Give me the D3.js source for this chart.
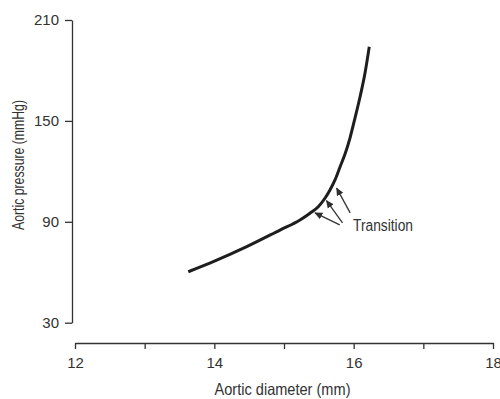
<!DOCTYPE html>
<html>
<head>
<meta charset="utf-8">
<script src="https://cdn.jsdelivr.net/npm/d3@7"></script>
<style>
  body { margin: 0; background: #fff; }
  svg { display: block; }
  text { font-family: "Liberation Sans", Arial, sans-serif; }
</style>
</head>
<body>
<div id="chart"></div>
<script>
// curve: aortic diameter (mm) vs aortic pressure (mmHg)
const diameter = [13.626, 13.985, 14.465, 14.943, 15.230, 15.373, 15.492, 15.588, 15.660,
                  15.732, 15.804, 15.876, 15.947, 16.019, 16.091, 16.163, 16.224];
const pressure = [60.3, 66.3, 75.2, 85.1, 91.1, 95.1, 99.0, 104.0, 108.9,
                  114.9, 122.6, 130.3, 139.8, 151.7, 164.2, 178.5, 194.1];

const xTicks = [12, 13, 14, 15, 16, 17, 18];
const xLabels = [12, 14, 16, 18];
const yTicks = [30, 90, 150, 210];

// "Transition" arrows, tail -> tip, in data units
const arrowTail = [[15.80, 88.2], [15.84, 89.4], [15.95, 95.3]];
const arrowTip = [[15.445, 95.3], [15.61, 102.6], [15.756, 110.0]];
const noteText = "Transition";
const notePos = [15.99, 84.5];

const width = 500, height = 399;

const x = d3.scaleLinear().domain([12, 18]).range([75, 493]);
const y = d3.scaleLinear().domain([30, 210]).range([322.7, 20]);

const svg = d3.select("#chart").append("svg")
    .attr("width", width)
    .attr("height", height);

svg.append("defs").append("marker")
    .attr("id", "head")
    .attr("viewBox", "0 0 10 10")
    .attr("refX", 9).attr("refY", 5)
    .attr("markerWidth", 8).attr("markerHeight", 8)
    .attr("markerUnits", "userSpaceOnUse")
    .attr("orient", "auto")
    .append("path")
    .attr("d", "M0,0.5L10,5L0,9.5z")
    .attr("fill", "#2e2e2e");

// y axis, set slightly left of the x axis start
const yAxis = svg.append("g")
    .attr("transform", "translate(72,0)")
    .call(d3.axisLeft(y).tickValues(yTicks).tickSize(7).tickPadding(6).tickSizeOuter(0));

// x axis, dropped below the lowest y tick
const xAxis = svg.append("g")
    .attr("transform", "translate(0,343)")
    .call(d3.axisBottom(x).tickValues(xTicks).tickSize(6).tickPadding(8).tickSizeOuter(0)
        .tickFormat(d => xLabels.includes(d) ? d : ""));

[yAxis, xAxis].forEach(g => {
    g.attr("font-family", null).attr("font-size", null);
    g.select(".domain").attr("stroke", "#333").attr("stroke-width", 1.3);
    g.selectAll(".tick line").attr("stroke", "#333").attr("stroke-width", 1.3);
    g.selectAll(".tick text").attr("fill", "#333").style("font-size", "15px");
});

// narrow titles: squeeze to the measured widths
svg.append("text")
    .attr("x", 282.5).attr("y", 395)
    .attr("text-anchor", "middle")
    .attr("fill", "#333")
    .attr("textLength", 136)
    .attr("lengthAdjust", "spacingAndGlyphs")
    .style("font-size", "16.5px")
    .text("Aortic diameter (mm)");

svg.append("text")
    .attr("transform", "translate(23.5,165) rotate(-90)")
    .attr("text-anchor", "middle")
    .attr("fill", "#333")
    .attr("textLength", 130)
    .attr("lengthAdjust", "spacingAndGlyphs")
    .style("font-size", "16.5px")
    .text("Aortic pressure (mmHg)");

const pts = diameter.map((d, i) => [d, pressure[i]]);
const line = d3.line()
    .x(d => x(d[0]))
    .y(d => y(d[1]))
    .curve(d3.curveMonotoneX);

svg.append("path")
    .datum(pts)
    .attr("d", line)
    .attr("fill", "none")
    .attr("stroke", "#1e1e1e")
    .attr("stroke-width", 3)
    .attr("stroke-linecap", "butt");

svg.append("g")
    .selectAll("line")
    .data(arrowTail)
    .join("line")
    .attr("x1", d => x(d[0]))
    .attr("y1", d => y(d[1]))
    .attr("x2", (d, i) => x(arrowTip[i][0]))
    .attr("y2", (d, i) => y(arrowTip[i][1]))
    .attr("stroke", "#333")
    .attr("stroke-width", 1.3)
    .attr("marker-end", "url(#head)");

svg.append("text")
    .attr("x", x(notePos[0])).attr("y", y(notePos[1]))
    .attr("fill", "#333")
    .attr("textLength", 60)
    .attr("lengthAdjust", "spacingAndGlyphs")
    .style("font-size", "16px")
    .text(noteText);
</script>
</body>
</html>
